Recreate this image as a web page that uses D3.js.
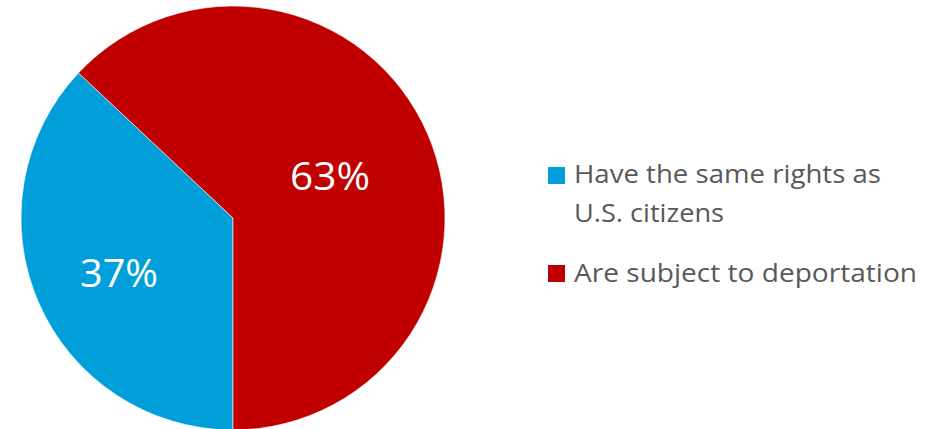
<!DOCTYPE html>
<html><head><meta charset="utf-8">
<script src="https://cdn.jsdelivr.net/npm/d3@7"></script>
<style>html,body{margin:0;padding:0;background:#fff;}svg{display:block;}</style>
</head><body>
<svg id="chart" width="945" height="429"></svg>
<script>
const categories = ["Have the same rights as U.S. citizens", "Are subject to deportation"];
const values = [37, 63];
const valueLabels = ["37%", "63%"];
const legendLines = [["Have the same rights as", "U.S. citizens"], ["Are subject to deportation"]];
const colors = ["#009FDA", "#C00000"];

const svg = d3.select("#chart");
const cx = 233, cy = 218, r = 212;
const g = svg.append("g").attr("transform", `translate(${cx},${cy})`);

const pie = d3.pie().sort(null).value(d => d).startAngle(Math.PI).endAngle(3 * Math.PI);
const arcs = pie(values);
const arc = d3.arc().innerRadius(0).outerRadius(r);
const color = d3.scaleOrdinal().domain(categories).range(colors);

g.selectAll("path.slice").data(arcs).join("path")
  .attr("class", "slice")
  .attr("d", arc)
  .attr("fill", (d, i) => color(categories[i]))
  .attr("stroke", "#ffffff").attr("stroke-width", 0.6);

// label positions
const labelPos = [[119 - cx, 287 - cy], [330 - cx, 190 - cy]];
g.selectAll("text.lbl").data(arcs).join("text")
  .attr("class", "lbl")
  .attr("x", (d, i) => labelPos[i][0])
  .attr("y", (d, i) => labelPos[i][1])
  .attr("text-anchor", "middle")
  .attr("fill", "#ffffff")
  .attr("font-family", "'Open Sans', 'Noto Sans', sans-serif")
  .attr("font-size", 38)
  .attr("textLength", (d, i) => i === 0 ? 78 : 80)
  .attr("lengthAdjust", "spacingAndGlyphs")
  .text((d, i) => valueLabels[i]);

// legend
const legend = svg.append("g");
const items = [
  {sq: 167, baselines: [183, 222], widths: [307, 150]},
  {sq: 265, baselines: [282], widths: [343]}
];
items.forEach((it, i) => {
  legend.append("rect").attr("x", 548).attr("y", it.sq).attr("width", 17).attr("height", 17)
    .attr("fill", color(categories[i]));
  legendLines[i].forEach((line, j) => {
    legend.append("text")
      .attr("x", 574).attr("y", it.baselines[j])
      .attr("fill", "#595959")
      .attr("font-family", "'Open Sans', 'Noto Sans', sans-serif")
      .attr("font-size", 26)
      .attr("textLength", it.widths[j])
      .attr("lengthAdjust", "spacingAndGlyphs")
      .text(line);
  });
});
</script>
</body></html>
